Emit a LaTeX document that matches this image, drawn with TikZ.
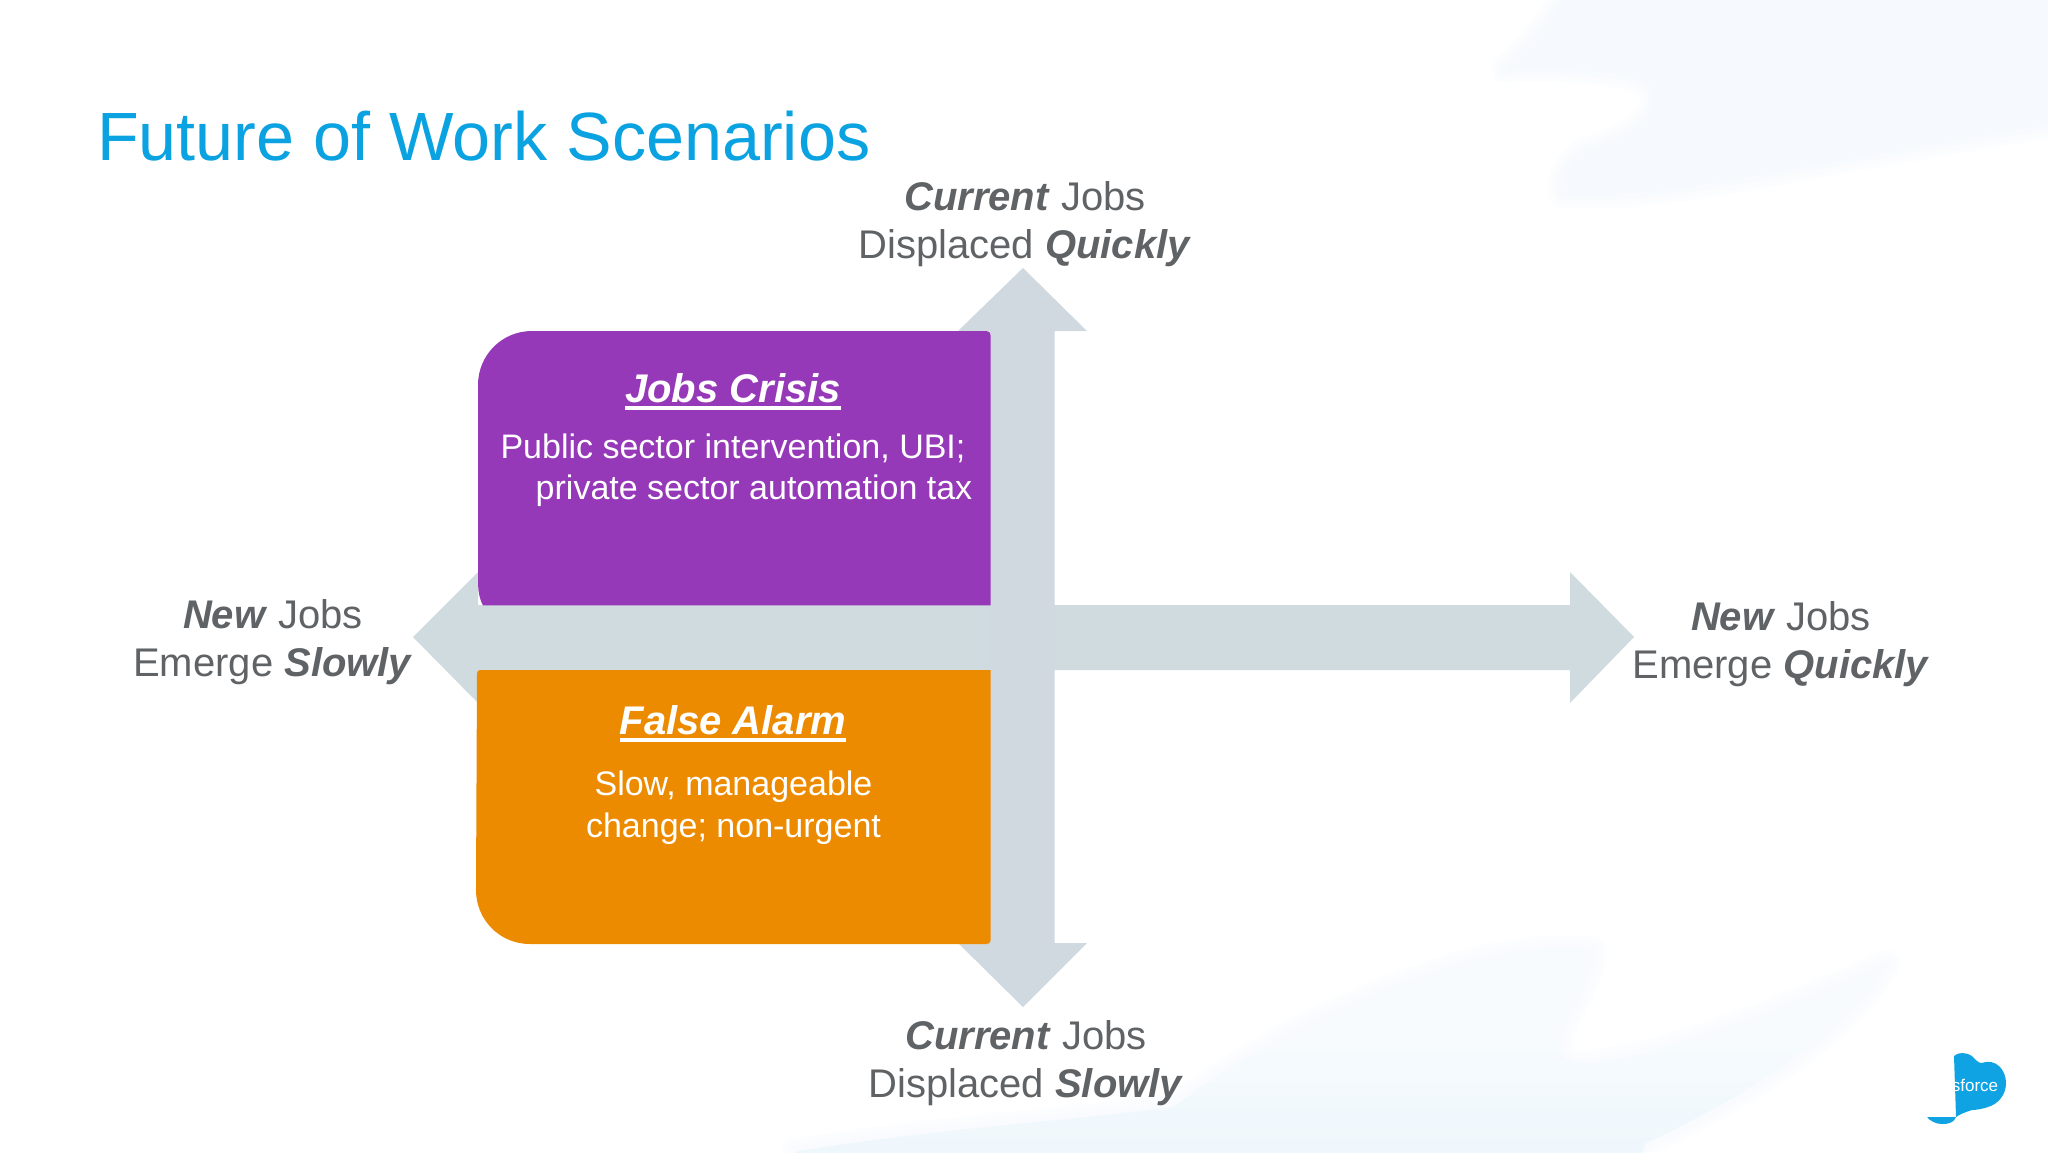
\documentclass[tikz,border=0pt]{standalone}
\usepackage{fontspec}
\setmainfont{Liberation Sans}
\definecolor{axisgrey}{HTML}{D0D9DF}
\definecolor{axisgreen}{HTML}{CFDBDF}
\definecolor{purplebox}{HTML}{9639B8}
\definecolor{orangebox}{HTML}{EC8A00}
\definecolor{titleblue}{HTML}{0AA2E0}
\definecolor{labelgrey}{HTML}{5F6366}
\definecolor{logoblue}{HTML}{0FA3E4}
\definecolor{wisptop}{HTML}{F6FAFE}
\definecolor{wispbottom}{HTML}{F7FBFE}
\definecolor{wispdeep}{HTML}{EEF7FC}
\newcommand{\ulhead}[1]{\setbox0=\hbox{#1}\rlap{\copy0}\rlap{\raisebox{-7.5pt}{\rule{\wd0}{3.2pt}}}\kern\wd0\relax}
\newcommand{\bi}[1]{\textbf{\textit{#1}}}
\newcommand{\wispA}{(1577,-30) .. controls (1550,30) and (1520,50) .. (1505,70)
  .. controls (1560,68) and (1640,70) .. (1653,90)
  .. controls (1660,120) and (1620,140) .. (1585,150)
  .. controls (1565,165) and (1558,180) .. (1562,195)
  .. controls (1660,200) and (1780,170) .. (1872,155)
  -- (2078,120) -- (2078,-30) -- cycle}
\newcommand{\wispB}{(795,1180) -- (795,1152) .. controls (920,1130) and (1080,1120) .. (1173,1107)
  .. controls (1240,1060) and (1300,1020) .. (1431,973)
  .. controls (1500,950) and (1560,945) .. (1594,950)
  .. controls (1590,990) and (1560,1020) .. (1560,1043)
  .. controls (1560,1065) and (1580,1066) .. (1600,1062)
  .. controls (1680,1050) and (1780,1010) .. (1887,963)
  .. controls (1860,1020) and (1760,1090) .. (1646,1143)
  -- (1629,1180) -- cycle}
\tikzset{
  axislabel/.style={font=\fontsize{40}{48}\selectfont, text=labelgrey, align=center, inner sep=0pt, anchor=center},
  headtext/.style={font=\fontsize{40}{48}\selectfont\bfseries\itshape, text=white, inner sep=0pt, anchor=base},
  bodytext/.style={font=\fontsize{34}{41.5}\selectfont, text=white, align=center, inner sep=0pt},
  soft/.style={line join=round, opacity=0.3, draw=#1}
}
\begin{document}
\begin{tikzpicture}[x=1pt,y=-1pt]
\useasboundingbox (0,0) rectangle (2048,1152);
\fill[white] (0,0) rectangle (2048,1152);
% background wisps
\begin{scope}
\clip (0,0) rectangle (2048,1152);
\foreach \w in {26,18,10}{\draw[soft=wisptop, line width=\w pt] \wispA;}
\fill[wisptop] \wispA;
\foreach \w in {26,18,10}{\draw[soft=wispbottom, line width=\w pt] \wispB;}
\fill[wispbottom] \wispB;
\clip \wispB;
\shade[top color=wispbottom, bottom color=wispdeep] (700,1040) rectangle (2000,1152);
\end{scope}
% axes
\fill[axisgreen] (413,637) -- (478,572) -- (478,605) -- (1570,605) -- (1570,572) -- (1634,637) -- (1570,703) -- (1570,670) -- (478,670) -- (478,703) -- cycle;
\fill[axisgrey] (1023,268) -- (1087,331) -- (1054.5,331) -- (1054.5,943) -- (1087,943) -- (1023,1007) -- (958,943) -- (990,943) -- (990,331) -- (958,331) -- cycle;
% boxes
\fill[purplebox] (478,385) .. controls (478,355) and (502,331) .. (532,331) -- (986,331) .. controls (989,331) and (990.5,332) .. (990.5,335) -- (990.5,605.3) -- (483,605.3) .. controls (479,598) and (478,590) .. (478,580) -- cycle;
\fill[orangebox] (476,890) .. controls (476,920) and (500,944) .. (530,944) -- (986,944) .. controls (989,944) and (990.7,943) .. (990.7,940) -- (990.7,670) -- (480,670) .. controls (478,670) and (477,671) .. (477,674) -- cycle;
% title
\node[font=\fontsize{68.3}{80}\selectfont, text=titleblue, inner sep=0pt, anchor=base west] (title) at (97,160) {Future of Work Scenarios};
% axis labels
\node[axislabel] (top) at (1025,224.5) {\bi{Current} Jobs\\Displaced \bi{Quickly}};
\node[axislabel] (left) at (273,642.5) {\bi{New} Jobs\\Emerge \bi{Slowly}};
\node[axislabel] (right) at (1781,644.5) {\bi{New} Jobs\\Emerge \bi{Quickly}};
\node[axislabel] (bottom) at (1026,1063) {\bi{Current} Jobs\\Displaced \bi{Slowly}};
% box text
\node[headtext] (jobshead) at (733,402) {\ulhead{Jobs Crisis}};
\node[bodytext, anchor=center] (jobsbody) at (733,470) {Public sector intervention, UBI;\\\hspace*{42pt}private sector automation tax};
\node[headtext] (falsehead) at (733,734) {\ulhead{False Alarm}};
\node[bodytext, anchor=center] (falsebody) at (733.5,807.5) {Slow, manageable\\change; non-urgent};
% logo
\fill[logoblue] (1954,1056) .. controls (1958,1052) and (1966,1052) .. (1972,1056)
  .. controls (1976,1060) and (1978,1063) .. (1982,1063)
  .. controls (1996,1058) and (2006,1070) .. (2006,1083)
  .. controls (2006,1095) and (1998,1104) .. (1988,1107)
  .. controls (1982,1109) and (1976,1110) .. (1972,1110)
  .. controls (1966,1112) and (1960,1114) .. (1956,1117)
  -- cycle;
\fill[logoblue] (1927,1117) -- (1956,1117) .. controls (1954,1122) and (1950,1124) .. (1942,1124) .. controls (1936,1124) and (1930,1121) .. (1927,1117) -- cycle;
\node[font=\fontsize{17}{18}\selectfont, text=white, inner sep=0pt] (logotext) at (1975,1085) {sforce};
\end{tikzpicture}
\end{document}
